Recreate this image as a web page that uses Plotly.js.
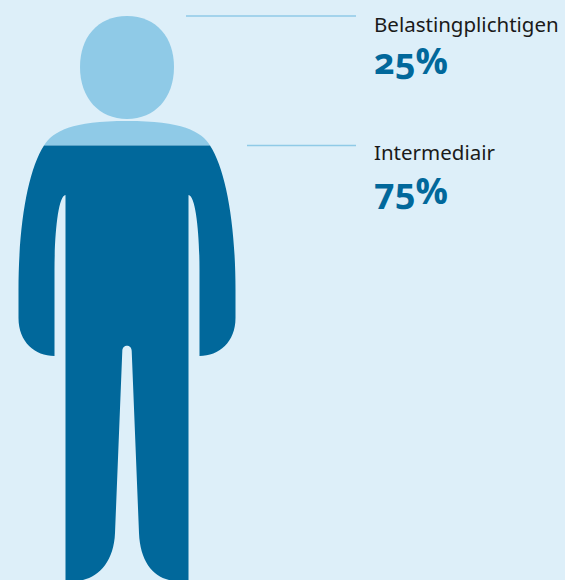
<!DOCTYPE html>
<html><head><meta charset="utf-8">
<script src="https://cdn.plot.ly/plotly-3.0.1.min.js"></script>
<style>
html,body{margin:0;padding:0;background:#DDEFF9;overflow:hidden}
#c{width:565px;height:580px}
.annotation-text{font-feature-settings:"onum" 1,"lnum" 0;}
</style></head><body><div id="c"></div>
<script>
const categories = ['Belastingplichtigen','Intermediair'];
const shares = [25, 75];
const colors = ['#8FCAE7','#01689B'];
const H = 580, W = 565, cx = 127;
const splitY = H * shares[0] / 100 + 0.5;

const head = `M127,16 C157,16 174,38 174,67 C174,98 155,119 127,119 C99,119 80,98 80,67 C80,38 97,16 127,16 Z`;
const top_ = `M44,${splitY} C53,131 72,121 127,121 C182,121 201,131 210,${splitY} Z`;
const body = `M44,${splitY} C28,170 18.5,225 18.5,290 L18.5,318 C18.5,342 35,356 54.5,356 L54.5,270 C54.5,235 58,196 65.5,195 L65.5,580 L83,580 C100,576 114,560 115,533 L122.3,351 C122.4,344 131.6,344 131.7,351 L139,533 C140,560 152,576 169,580 L188.5,580 L188.5,195 C196,196 199.5,235 199.5,270 L199.5,356 C219,356 235.5,342 235.5,318 L235.5,290 C235.5,225 226,170 210,${splitY} Z`;

const shape = (path, fill) => ({type:'path', xref:'x', yref:'y', path, fillcolor:fill, line:{width:0}, layer:'below'});

const traces = [
  {x:[186,356], y:[16,16], mode:'lines', line:{color:colors[0],width:1.5}, hoverinfo:'skip', showlegend:false},
  {x:[247,356], y:[splitY,splitY], mode:'lines', line:{color:colors[0],width:1.5}, hoverinfo:'skip', showlegend:false}
];

const labelFont = {family:'"Noto Sans",sans-serif', size:20.5, color:'#1a1a1a'};
const valueFont = {family:'"Open Sans",sans-serif', size:36, color:colors[1], weight:700};
const ann = (text,y,font) => ({text, x:372.5, y, xref:'x', yref:'y', xanchor:'left', yanchor:'middle', showarrow:false, font, align:'left', borderpad:0});

const layout = {
  width:W, height:H, margin:{l:0,r:0,t:0,b:0}, paper_bgcolor:'#DDEFF9', plot_bgcolor:'#DDEFF9', showlegend:false,
  xaxis:{range:[0,W], visible:false, fixedrange:true},
  yaxis:{range:[H,0], visible:false, fixedrange:true},
  shapes:[shape(head,colors[0]), shape(top_,colors[0]), shape(body,colors[1])],
  annotations:[
    ann(categories[0],24,labelFont),
    ann(shares[0]+'%',60,valueFont),
    ann(categories[1],152,labelFont),
    ann(shares[1]+'%',190,valueFont)
  ]
};
Plotly.newPlot('c', traces, layout, {displayModeBar:false, staticPlot:true});
</script></body></html>
